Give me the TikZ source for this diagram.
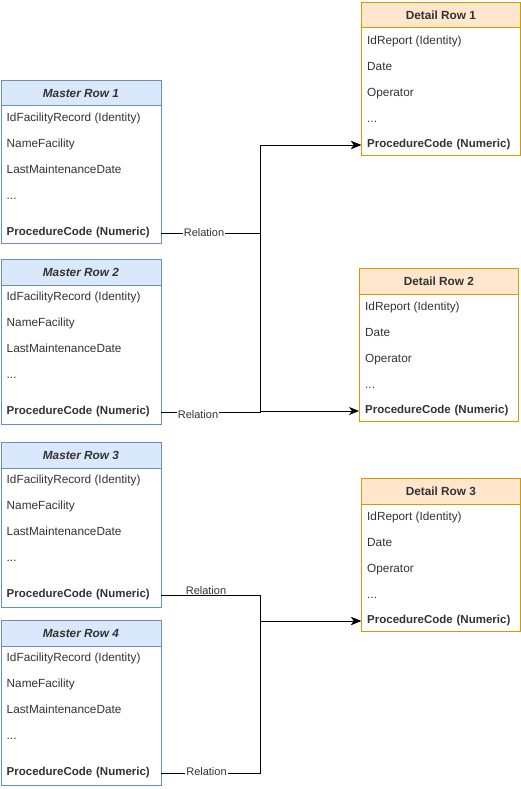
\documentclass[tikz,border=0pt]{standalone}
\usepackage{fontspec}
\setmainfont{Liberation Sans}
\usetikzlibrary{arrows.meta}
\definecolor{mstroke}{HTML}{6C8EBF}
\definecolor{mfill}{HTML}{DAE8FC}
\definecolor{dstroke}{HTML}{D79B00}
\definecolor{dfill}{HTML}{FFE6CC}
\definecolor{txt}{HTML}{333333}
\tikzset{
  mbody/.style={draw=mstroke, fill=white, line width=0.8pt, inner sep=0pt, anchor=north west},
  mhead/.style={draw=mstroke, fill=mfill, line width=0.8pt, inner sep=0pt, anchor=north west, font=\fontsize{11.8}{13}\selectfont\bfseries\itshape, text=txt},
  dbody/.style={draw=dstroke, fill=white, line width=0.8pt, inner sep=0pt, anchor=north west},
  dhead/.style={draw=dstroke, fill=dfill, line width=0.8pt, inner sep=0pt, anchor=north west, font=\fontsize{11.8}{13}\selectfont\bfseries, text=txt},
  rowtxt/.style={anchor=west, inner xsep=6pt, inner ysep=0pt, text height=8.5pt, text depth=3pt, font=\fontsize{11.8}{13}\selectfont, text=txt},
  keytxt/.style={rowtxt, text width=148pt, align=left, font=\fontsize{11.5}{13}\selectfont\bfseries},
  conn/.style={draw=black, line width=0.9pt},
  arr/.style={conn, -{Stealth[length=10pt,width=8pt,inset=3pt]}},
  rel/.style={fill=white, inner xsep=1pt, inner ysep=0pt, font=\fontsize{11}{12}\selectfont, text=txt}
}
\newcommand\mastertab[4]{% name, ytop, height, title
  \node[mbody, minimum width=160pt, minimum height=#3 pt] (#1) at (0.5,#2) {};
  \node[mhead, minimum width=160pt, minimum height=25.5pt] (#1h) at (0.5,#2) {#4};
  \node[rowtxt] (#1a) at (0.5,#2+39) {IdFacilityRecord (Identity)};
  \node[rowtxt] (#1b) at (0.5,#2+65) {NameFacility};
  \node[rowtxt] (#1c) at (0.5,#2+91) {LastMaintenanceDate};
  \node[rowtxt] (#1d) at (0.5,#2+117) {...};
  \node[keytxt] (#1e) at (0.5,#2+153) {ProcedureCode (Numeric)};
}
\newcommand\detailtab[4]{% name, xleft, ytop, title
  \node[dbody, minimum width=159pt, minimum height=153pt] (#1) at (#2,#3) {};
  \node[dhead, minimum width=159pt, minimum height=25.5pt] (#1h) at (#2,#3) {#4};
  \node[rowtxt] (#1a) at (#2,#3+39.5) {IdReport (Identity)};
  \node[rowtxt] (#1b) at (#2,#3+65.5) {Date};
  \node[rowtxt] (#1c) at (#2,#3+91.5) {Operator};
  \node[rowtxt] (#1d) at (#2,#3+117.5) {...};
  \node[keytxt, text width=147pt] (#1e) at (#2,#3+143) {ProcedureCode (Numeric)};
}
\begin{document}
\begin{tikzpicture}[x=1pt,y=-1pt]
\useasboundingbox (0,0) rectangle (521,789);
\mastertab{ma}{80}{163}{Master Row 1}
\mastertab{mb}{259}{165}{Master Row 2}
\mastertab{mc}{442}{165}{Master Row 3}
\mastertab{md}{620}{165}{Master Row 4}
\detailtab{da}{361}{2}{Detail Row 1}
\detailtab{db}{359}{268}{Detail Row 2}
\detailtab{dc}{361}{478}{Detail Row 3}
\coordinate (ja) at (260.5,0);
% connectors
\draw[arr] (ma.east |- mae.east) -- (mae.east -| ja) |- (dae.west);
\draw[arr] (mb.east |- mbe.east) -- (mbe.east -| ja) |- (dae.west);
\draw[arr] (mb.east |- mbe.east) -- (mbe.east -| ja) |- (dbe.west);
\draw[arr] (mc.east |- mce.east) -- (mce.east -| ja) |- (dce.west);
\draw[arr] (md.east |- mde.east) -- (mde.east -| ja) |- (dce.west);
% labels
\node[rel] (la) at (204,233) {Relation};
\node[rel] (lb) at (198,415) {Relation};
\node[rel] (lc) at (206,591) {Relation};
\node[rel] (ld) at (206.5,772) {Relation};
\end{tikzpicture}
\end{document}
